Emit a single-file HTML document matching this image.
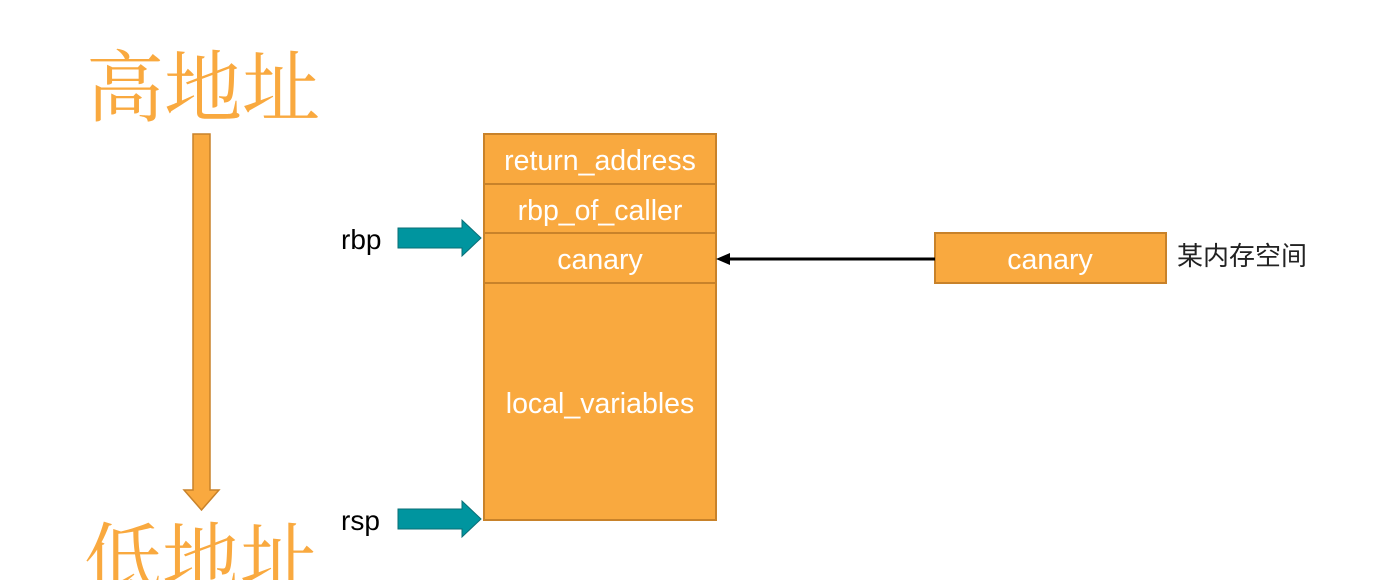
<!DOCTYPE html>
<html><head><meta charset="utf-8"><style>
html,body{margin:0;padding:0;background:#fff;width:1387px;height:580px;overflow:hidden}
svg{display:block}
</style></head><body>
<svg width="1387" height="580" xmlns="http://www.w3.org/2000/svg">
<g font-family="'Noto Serif CJK SC','Liberation Serif',serif" font-size="78" fill="#F9A93F">
<text x="86" y="115">高地址</text>
<text x="84" y="587">低地址</text>
</g>
<polygon points="193,134 210,134 210,490 219,490 201.5,510 184,490 193,490" fill="#F9A93F" stroke="#C8822A" stroke-width="1.5"/>
<g fill="#F9A93F" stroke="#C8822A" stroke-width="2">
<rect x="484" y="134" width="232" height="50"/>
<rect x="484" y="184" width="232" height="49"/>
<rect x="484" y="233" width="232" height="50"/>
<rect x="484" y="283" width="232" height="237"/>
<rect x="935" y="233" width="231" height="50"/>
</g>
<g font-family="'Liberation Sans',sans-serif" font-size="28.5" fill="#fff" text-anchor="middle">
<text x="600" y="170">return_address</text>
<text x="600" y="220">rbp_of_caller</text>
<text x="600" y="269">canary</text>
<text x="600" y="413">local_variables</text>
<text x="1050" y="269">canary</text>
</g>
<line x1="935" y1="259" x2="728" y2="259" stroke="#000" stroke-width="3"/>
<polygon points="716,259 730,253 730,265" fill="#000"/>
<g fill="#00959F" stroke="#0A6E76" stroke-width="1">
<polygon points="398,228 462,228 462,220 481,238 462,256 462,248 398,248"/>
<polygon points="398,509 462,509 462,501 481,519 462,537 462,529 398,529"/>
</g>
<g font-family="'Liberation Sans',sans-serif" font-size="28" fill="#000">
<text x="341" y="249">rbp</text>
<text x="341" y="530">rsp</text>
</g>
<text x="1177" y="265" font-family="'Liberation Sans','Noto Sans CJK SC',sans-serif" font-size="26" fill="#222">某内存空间</text>
</svg>
</body></html>
